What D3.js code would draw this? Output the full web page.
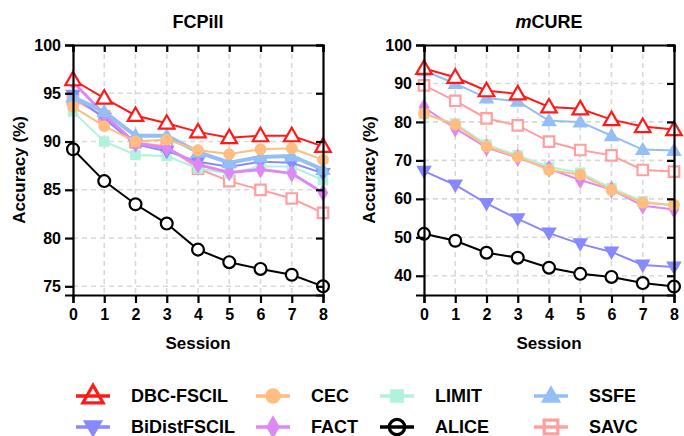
<!DOCTYPE html>
<html>
<head>
<meta charset="utf-8">
<script src="https://cdn.jsdelivr.net/npm/d3@7"></script>
<style>
  body { margin: 0; background: #fff; }
  text { font-family: "Liberation Sans", Arial, sans-serif; font-weight: bold; fill: #000; }
</style>
</head>
<body>
<script>
// sessions on the x axis
var sessions = [0, 1, 2, 3, 4, 5, 6, 7, 8];
var methods = ["DBC-FSCIL", "BiDistFSCIL", "CEC", "FACT", "LIMIT", "ALICE", "SSFE", "SAVC"];

// FCPill accuracy per method
var fcpDBC    = [96.4, 94.5, 92.7, 91.9, 91.0, 90.4, 90.6, 90.6, 89.5];
var fcpBiDist = [94.8, 92.4, 89.7, 89.0, 87.9, 87.4, 87.9, 87.8, 86.7];
var fcpCEC    = [93.6, 91.6, 90.0, 90.2, 89.1, 88.7, 89.2, 89.3, 88.1];
var fcpFACT   = [96.2, 92.8, 89.8, 89.3, 87.6, 86.8, 87.1, 86.7, 84.7];
var fcpLIMIT  = [93.1, 90.0, 88.6, 88.5, 87.2, 86.7, 87.4, 87.4, 86.0];
var fcpALICE  = [89.2, 85.9, 83.5, 81.5, 78.8, 77.5, 76.8, 76.2, 75.0];
var fcpSSFE   = [94.6, 93.1, 90.6, 90.6, 88.9, 87.8, 88.4, 88.5, 87.1];
var fcpSAVC   = [94.4, 92.6, 89.9, 89.5, 87.2, 85.9, 85.0, 84.1, 82.6];

// mCURE accuracy per method
var mcDBC    = [93.9, 91.6, 88.1, 87.3, 83.9, 83.4, 80.6, 78.8, 78.0];
var mcBiDist = [67.2, 63.6, 58.8, 54.8, 51.1, 48.3, 46.2, 42.8, 42.3];
var mcCEC    = [82.2, 79.3, 73.6, 70.9, 67.5, 66.3, 62.3, 59.0, 58.4];
var mcFACT   = [83.8, 78.3, 73.3, 70.7, 67.8, 64.9, 62.4, 58.2, 57.2];
var mcLIMIT  = [82.0, 79.6, 74.1, 71.3, 68.3, 66.8, 62.8, 59.4, 58.2];
var mcALICE  = [50.9, 49.1, 46.0, 44.7, 42.1, 40.5, 39.7, 38.1, 37.2];
var mcSSFE   = [93.3, 90.0, 86.2, 85.4, 80.3, 80.0, 76.4, 72.8, 72.6];
var mcSAVC   = [89.5, 85.5, 80.9, 79.1, 74.9, 72.7, 71.3, 67.5, 67.1];

var fcpTicks = [75, 80, 85, 90, 95, 100];
var mcTicks = [40, 50, 60, 70, 80, 90, 100];

// styling per method
var style = {
  "DBC-FSCIL":   {color: "#ff1a1a", shape: "tri",  open: true},
  "BiDistFSCIL": {color: "#8888ff", shape: "down", open: false},
  "CEC":         {color: "#ffbe80", shape: "circle", open: false},
  "FACT":        {color: "#dd88f5", shape: "diamond", open: false},
  "LIMIT":       {color: "#b0f2dc", shape: "square", open: false},
  "ALICE":       {color: "#000000", shape: "circle", open: true},
  "SSFE":        {color: "#93bff5", shape: "tri",  open: false},
  "SAVC":        {color: "#ff9f9f", shape: "square", open: true}
};
// draw order (bottom first)
var drawOrder = ["ALICE", "SAVC", "LIMIT", "BiDistFSCIL", "FACT", "SSFE", "CEC", "DBC-FSCIL"];

var w = 684, h = 436;
var svg = d3.select("body").append("svg").attr("width", w).attr("height", h);

function symbolPath(shape, scale) {
  var s = scale || 1;
  if (shape === "tri" || shape === "down") return d3.symbol().type(d3.symbolTriangle).size(105 * s)();
  if (shape === "circle") return d3.symbol().type(d3.symbolCircle).size(110 * s)();
  if (shape === "square") return d3.symbol().type(d3.symbolSquare).size(110 * s)();
  if (shape === "diamond") return d3.symbol().type(d3.symbolDiamond).size(95 * s)();
}

function drawMarker(g, name, x, y, scale, legend) {
  var st = style[name];
  var rot = st.shape === "down" ? 180 : 0;
  var dy = st.shape === "tri" ? 1 : (st.shape === "down" ? -1 : 0);
  g.append("path")
    .attr("d", symbolPath(st.shape, scale))
    .attr("transform", "translate(" + x + "," + (y + dy) + ") rotate(" + rot + ")")
    .style("fill", st.open ? (legend ? "none" : "#fff") : st.color)
    .style("stroke", st.color)
    .style("stroke-width", st.open ? (legend ? 3.2 : 2.2) : 0);
}

function panel(opts) {
  var x = d3.scaleLinear().domain([0, 8]).range([opts.x0, opts.x1]);
  var y = d3.scaleLinear().domain(opts.yDomain).range([opts.yBottom, 45]);
  var g = svg.append("g");

  // dashed grid
  g.selectAll(".vgrid").data(sessions.slice(1, 8)).enter().append("line")
    .attr("x1", function(d){ return x(d); }).attr("x2", function(d){ return x(d); })
    .attr("y1", y.range()[1]).attr("y2", y.range()[0])
    .style("stroke", "#d9d9d9").style("stroke-width", 1.6).style("stroke-dasharray", "5,4");
  g.selectAll(".hgrid").data(opts.ticks.slice(0, -1)).enter().append("line")
    .attr("x1", x(0)).attr("x2", x(8))
    .attr("y1", function(d){ return y(d); }).attr("y2", function(d){ return y(d); })
    .style("stroke", "#d9d9d9").style("stroke-width", 1.6).style("stroke-dasharray", "5,4");

  // series
  var line = d3.line().x(function(d, i){ return x(sessions[i]); }).y(function(d){ return y(d); });
  drawOrder.forEach(function(name){
    var vals = opts.data[name];
    var lw = 2;
    if (opts.thick && opts.thick[name]) lw = opts.thick[name];
    g.append("path").datum(vals).attr("d", line)
      .style("fill", "none").style("stroke", style[name].color).style("stroke-width", lw);
    vals.forEach(function(v, i){ drawMarker(g, name, x(sessions[i]), y(v)); });
  });

  // axes
  var left = d3.axisLeft(y).tickValues(opts.ticks).tickSize(8).tickPadding(4);
  var right = d3.axisLeft(y).tickValues(opts.ticks).tickSize(7).tickFormat("");
  var bottom = d3.axisBottom(x).tickValues(sessions).tickSize(8).tickPadding(6).tickFormat(d3.format("d"));
  var top = d3.axisBottom(x).tickValues(sessions).tickSize(7).tickFormat("");
  var axes = [
    g.append("g").attr("transform", "translate(" + x(0) + ",0)").call(left),
    g.append("g").attr("transform", "translate(" + x(8) + ",0)").call(right),
    g.append("g").attr("transform", "translate(0," + opts.yBottom + ")").call(bottom),
    g.append("g").attr("transform", "translate(0,45)").call(top)
  ];
  axes.forEach(function(a){
    a.select(".domain").style("stroke", "#000").style("stroke-width", 2.2);
    a.selectAll(".tick line").style("stroke", "#000").style("stroke-width", 2.2);
    a.selectAll("text").style("font-size", "16px").style("font-weight", "bold")
      .style("font-family", "'Liberation Sans', Arial, sans-serif");
  });

  // titles
  var cx = (opts.x0 + opts.x1) / 2;
  var t = svg.append("text").attr("x", cx).attr("y", 28).attr("text-anchor", "middle").style("font-size", "18px");
  if (opts.italic) {
    t.append("tspan").style("font-style", "italic").text(opts.italic);
  }
  t.append("tspan").text(opts.title);
  svg.append("text").attr("x", cx).attr("y", 349).attr("text-anchor", "middle")
    .style("font-size", "17px").text("Session");
  svg.append("text")
    .attr("transform", "translate(" + opts.labelX + "," + ((45 + opts.yBottom) / 2) + ") rotate(-90)")
    .attr("text-anchor", "middle").style("font-size", "17px").text("Accuracy (%)");
}

panel({
  x0: 73, x1: 323, yBottom: 295, yDomain: [74.1, 100], ticks: fcpTicks,
  title: "FCPill", labelX: 25,
  thick: {"SSFE": 4, "FACT": 3},
  data: {"DBC-FSCIL": fcpDBC, "BiDistFSCIL": fcpBiDist, "CEC": fcpCEC, "FACT": fcpFACT,
         "LIMIT": fcpLIMIT, "ALICE": fcpALICE, "SSFE": fcpSSFE, "SAVC": fcpSAVC}
});
panel({
  x0: 424, x1: 674, yBottom: 295, yDomain: [35, 100], ticks: mcTicks,
  title: "CURE", italic: "m", labelX: 375,
  data: {"DBC-FSCIL": mcDBC, "BiDistFSCIL": mcBiDist, "CEC": mcCEC, "FACT": mcFACT,
         "LIMIT": mcLIMIT, "ALICE": mcALICE, "SSFE": mcSSFE, "SAVC": mcSAVC}
});

// legend, two rows by four columns
var legendCols = [93, 273, 397, 551];
var legendRows = [396, 427];
var lg = svg.append("g");
methods.forEach(function(name, i){
  var cx = legendCols[Math.floor(i / 2)], cy = legendRows[i % 2];
  lg.append("line").attr("x1", cx - 17).attr("x2", cx + 17).attr("y1", cy).attr("y2", cy)
    .style("stroke", style[name].color).style("stroke-width", 3.5);
  drawMarker(lg, name, cx, cy, 1.7, true);
  lg.append("text").attr("x", cx + 38).attr("y", cy).attr("dy", "0.36em")
    .style("font-size", "18px").text(name);
});
</script>
</body>
</html>
